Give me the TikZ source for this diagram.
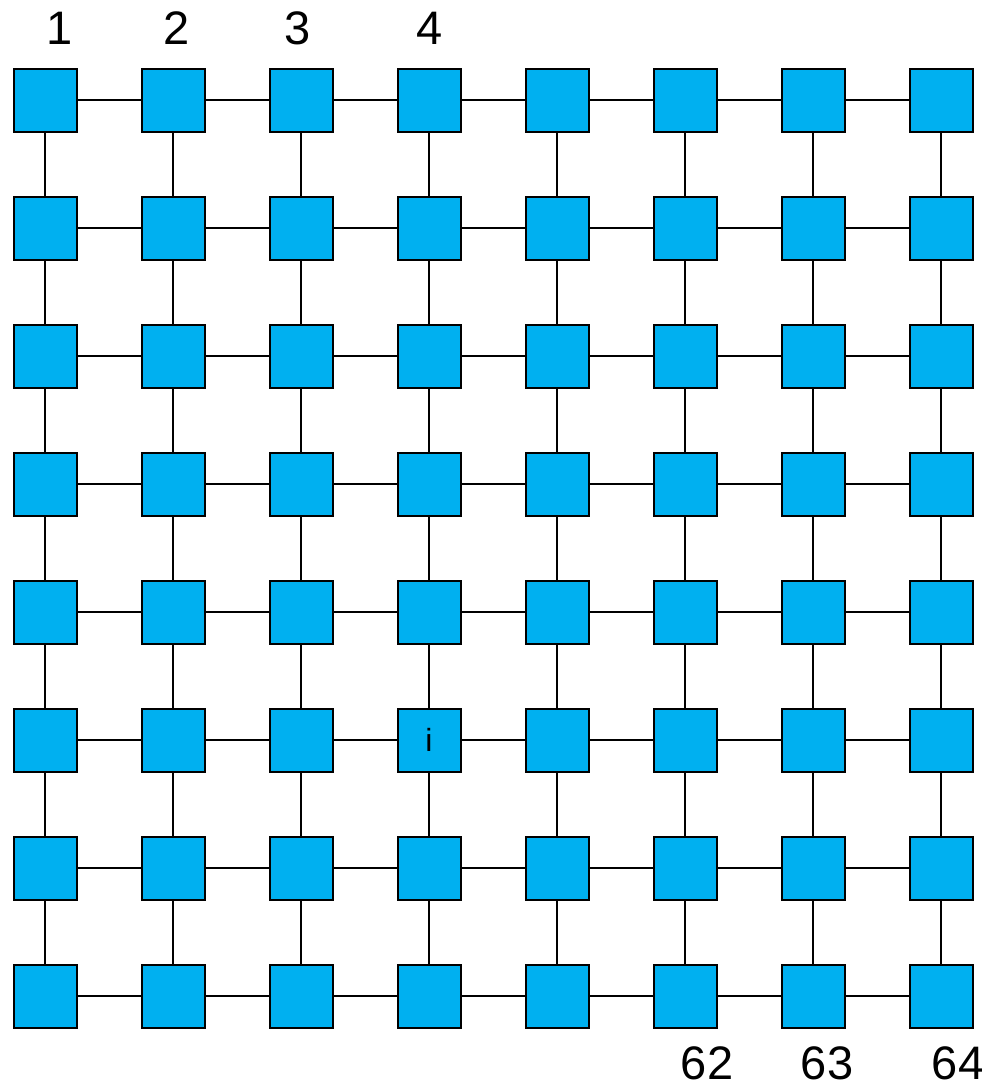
\documentclass[tikz,border=0pt]{standalone}
\usepackage{fontspec}
\setmainfont{Liberation Sans}
\definecolor{cellblue}{HTML}{00B0F0}
\begin{document}
\begin{tikzpicture}[x=1pt,y=-1pt,
  cell/.style={draw=black,line width=2pt,fill=cellblue,minimum size=63pt,inner sep=0pt,outer sep=0pt,font=\fontsize{32}{34}\selectfont},
  link/.style={draw=black,line width=1.5pt},
  lbl/.style={anchor=base,inner sep=0pt,font=\fontsize{47}{50}\selectfont}]
\useasboundingbox (0,0) rectangle (982,1084);
\foreach \i in {1,...,8}{
  \foreach \j in {1,...,8}{
    \node[cell] (n-\i-\j) at ({45+128*(\i-1)},{100+128*(\j-1)}) {};
  }
}
\node[cell] at (n-4-6) {i};
\foreach \i in {1,...,8}{
  \foreach \j [evaluate=\j as \jn using int(\j+1)] in {1,...,7}{
    \draw[link] (n-\i-\j) -- (n-\i-\jn);
    \draw[link] (n-\j-\i) -- (n-\jn-\i);
  }
}
\node[lbl] (l1) at (60,44) {1};
\node[lbl] (l2) at (177,44) {2};
\node[lbl] (l3) at (298,44) {3};
\node[lbl] (l4) at (430,44) {4};
\node[lbl] (l62) at (707,1079) {62};
\node[lbl] (l63) at (827,1079) {63};
\node[lbl] (l64) at (958,1079) {64};
\end{tikzpicture}
\end{document}
